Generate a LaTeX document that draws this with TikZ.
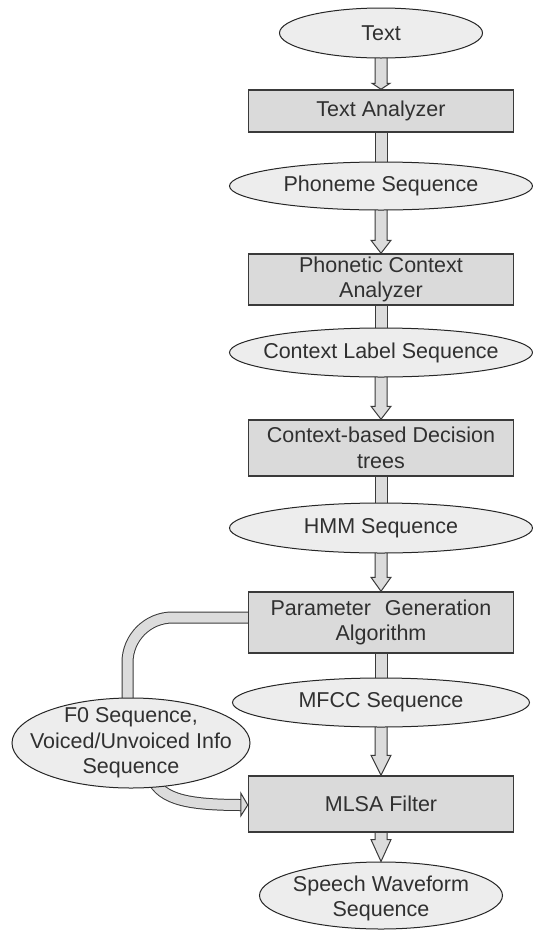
\documentclass[tikz,border=0pt]{standalone}
\usepackage{fontspec}
\setmainfont{Liberation Sans}
\usetikzlibrary{calc,backgrounds,shapes.geometric}
\definecolor{boxfill}{HTML}{DADADA}
\definecolor{ellfill}{HTML}{EDEDED}
\definecolor{arrfill}{HTML}{DCDCDC}
\definecolor{linecol}{HTML}{3A3A3A}
\definecolor{txtcol}{HTML}{303030}
\newcommand{\fatarrow}[4]{\path[arrowshape] ($(#1)+(-6,0)$) -- ($(#2)+(-6,-#3)$) -- ($(#2)+(-#4,-#3)$) -- (#2) -- ($(#2)+(#4,-#3)$) -- ($(#2)+(6,-#3)$) -- ($(#1)+(6,0)$) -- cycle;}
\newcommand{\fatshaft}[2]{\path[arrowshape] ($(#1)+(-6,0)$) rectangle ($(#2)+(6,0)$);}
\begin{document}
\begin{tikzpicture}[x=1pt,y=-1pt,
  every node/.style={font=\fontsize{21.5}{25.5}\selectfont, text=txtcol},
  stepbox/.style={rectangle, draw=linecol, line width=1.5pt, fill=boxfill, minimum width=265pt, inner sep=0pt, align=center},
  ellnode/.style={ellipse, draw=black!85, line width=1pt, fill=ellfill, inner sep=0pt},
  arrowshape/.style={draw=linecol, line width=1pt, fill=arrfill},
  fatline/.style={draw=linecol, line width=1pt, double=arrfill, double distance=10pt}]
\useasboundingbox (0,0) rectangle (533,930);

\node[ellnode, minimum width=203pt, minimum height=50pt, label={center:Text}] (text) at (381,33) {};
\node[stepbox, minimum height=42pt] (ta) at (381,111) {Text Analyzer};
\node[ellnode, minimum width=303pt, minimum height=48pt, label={center:Phoneme Sequence}] (ph) at (381,186) {};
\node[stepbox, minimum height=51pt] (pca) at (381,279.5) {Phonetic Context\\Analyzer};
\node[ellnode, minimum width=303pt, minimum height=49pt, label={center:Context Label Sequence}] (cl) at (381,352.5) {};
\node[stepbox, minimum height=56pt] (cbd) at (381,448) {Context-based Decision\\trees};
\node[ellnode, minimum width=303pt, minimum height=50pt, label={center:HMM Sequence}] (hmm) at (381,528) {};
\node[stepbox, minimum height=61pt] (pga) at (381,622.5) {Parameter\hspace{14pt}Generation\\Algorithm};
\node[ellnode, minimum width=297pt, minimum height=49pt, label={center:MFCC Sequence}] (mfcc) at (381,702.5) {};
\node[stepbox, minimum height=56pt] (mlsa) at (381,804) {MLSA Filter};
\node[ellnode, minimum width=243pt, minimum height=67pt, label={[align=center,yshift=-3pt]center:{Speech Waveform\\Sequence}}] (sw) at (381,895.5) {};
\node[ellnode, minimum width=238pt, minimum height=90pt, label={[align=center]center:{F0 Sequence,\\Voiced/Unvoiced Info\\Sequence}}] (f0) at (131,743) {};

\coordinate (c1) at ($(pga.west)+(0,-5)$);
\coordinate (c2) at ($(f0.center)+(-3.5,0)$);
\coordinate (d0) at ($(f0.center)+(19,30)$);
\coordinate (d1) at ($(mlsa.west)+(-6,1)$);
\coordinate (tip) at ($(mlsa.west)+(0,1)$);

\begin{scope}[on background layer]
\fatarrow{text.center}{ta.north}{6}{9}
\fatshaft{ta.south}{ph.center}
\fatarrow{ph.center}{pca.north}{13}{10}
\fatshaft{pca.south}{cl.center}
\fatarrow{cl.center}{cbd.north}{13}{10}
\fatshaft{cbd.south}{hmm.center}
\fatarrow{hmm.center}{pga.north}{14}{10}
\fatshaft{pga.south}{mfcc.center}
\fatarrow{mfcc.center}{mlsa.north}{20}{10}
\fatarrow{mlsa.center}{sw.north}{22}{10}
\draw[fatline, rounded corners=45pt] (c1) -| (c2);
\draw[fatline] (d0) .. controls ($(d0)+(8,25)$) and ($(d1)+(-60,0)$) .. (d1);
\path[arrowshape] ($(tip)+(-7,-12)$) -- (tip) -- ($(tip)+(-7,11)$) -- cycle;
\end{scope}
\end{tikzpicture}
\end{document}
